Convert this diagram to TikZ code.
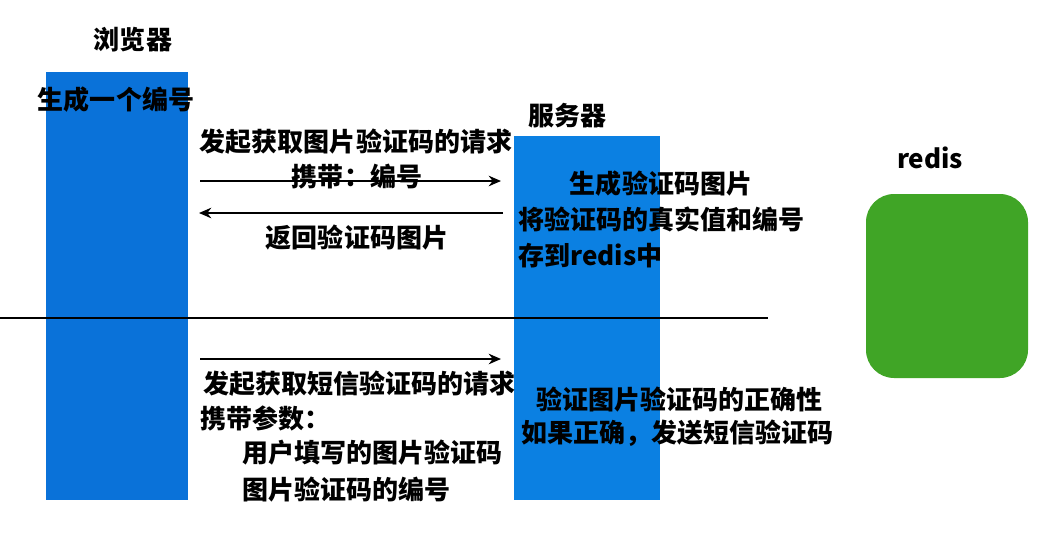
\documentclass[tikz,border=0pt]{standalone}
\usepackage{fontspec}
\newfontfamily\cjk{Noto Sans CJK SC}
\usetikzlibrary{arrows.meta}
\definecolor{barblue}{HTML}{0A72D9}
\definecolor{srvblue}{HTML}{0B80E2}
\definecolor{redisgreen}{HTML}{40A526}
\tikzset{
  txt/.style={font=\cjk\bfseries\fontsize{14.8}{17}\selectfont, inner sep=0pt},
  msg/.style={-{Stealth[length=7pt,width=6pt]}, line width=1.1pt}
}
\begin{document}
\begin{tikzpicture}[x=0.02cm,y=-0.02cm]
  \useasboundingbox (0,0) rectangle (1038,538);
  \fill[white] (0,0) rectangle (1038,538);
  % the three parties
  \fill[barblue] (46,72) rectangle (188,500);
  \fill[srvblue] (514,136) rectangle (660,500);
  \fill[redisgreen, rounded corners=16] (866,194) rectangle (1028,378);
  \node[txt] (browser) at (133,40) {浏览器};
  \node[txt] (server) at (567,116) {服务器};
  \node[txt] (redis) at (930,158) {redis};
  % first request
  \node[txt] (gen) at (116,100) {生成一个编号};
  \node[txt] (req1) at (356,142) {发起获取图片验证码的请求};
  \node[txt] (carry1) at (357,177) {携带：编号};
  \node[txt] (back) at (357,238) {返回验证码图片};
  \coordinate (r1a) at (200,181); \coordinate (r1b) at (501,181);
  \coordinate (r2a) at (503,213); \coordinate (r2b) at (199,213);
  \draw[msg] (r1a) -- (r1b);
  \draw[msg] (r2a) -- (r2b);
  \node[txt] (img) at (661,184) {生成验证码图片};
  \node[txt, anchor=west] (store) at (518,219) {将验证码的真实值和编号};
  \node[txt, anchor=west] (store2) at (518,256) {存到redis中};
  % separator
  \coordinate (sepa) at (0,318); \coordinate (sepb) at (768,318);
  \draw[line width=1.1pt] (sepa) -- (sepb);
  % second request
  \coordinate (r3a) at (200,359); \coordinate (r3b) at (501,359);
  \draw[msg] (r3a) -- (r3b);
  \node[txt, anchor=west] (req2) at (203,384) {发起获取短信验证码的请求};
  \node[txt, anchor=west] (carry2) at (200,418) {携带参数：};
  \node[txt, anchor=west] (p1) at (242,453) {用户填写的图片验证码};
  \node[txt, anchor=west] (p2) at (242,490) {图片验证码的编号};
  \node[txt, anchor=west] (check) at (536,400) {验证图片验证码的正确性};
  \node[txt, anchor=west] (send) at (521,433) {如果正确，发送短信验证码};
\end{tikzpicture}
\end{document}
